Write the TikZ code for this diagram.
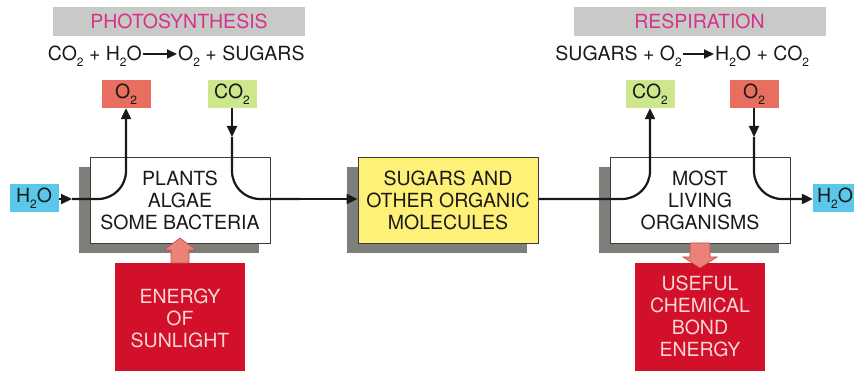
\documentclass[tikz,border=0pt]{standalone}
\usepackage{fontspec}
\setmainfont{TeX Gyre Heros}
\usetikzlibrary{arrows.meta,shadows}
\definecolor{shadowgrey}{RGB}{125,128,122}
\definecolor{headgrey}{RGB}{200,202,200}
\definecolor{titlemag}{RGB}{214,50,140}
\definecolor{oxred}{RGB}{232,110,95}
\definecolor{cogreen}{RGB}{206,230,140}
\definecolor{waterblue}{RGB}{90,200,235}
\definecolor{sugyellow}{RGB}{255,241,120}
\definecolor{enred}{RGB}{210,16,42}
\definecolor{entext}{RGB}{250,215,215}
\definecolor{pinkarrow}{RGB}{235,130,120}
\definecolor{pinkedge}{RGB}{190,80,70}
\definecolor{boxedge}{RGB}{60,60,60}
\definecolor{ink}{RGB}{25,25,25}
\newcommand\mysub[1]{\raisebox{-0.3em}{\fontsize{12}{12}\selectfont #1}}
\begin{document}
\begin{tikzpicture}[x=1pt,y=-1pt,
  every node/.style={font=\fontsize{19.5}{22}\selectfont, text=ink},
  header/.style={fill=headgrey, minimum width=252pt, minimum height=29pt, inner sep=0pt, text=titlemag},
  eqtext/.style={inner sep=1pt, text height=13pt, text depth=0pt},
  eqarrow/.style={-{Triangle[length=10pt,width=9pt]}, line width=1.8pt, ink},
  chem/.style={minimum width=49pt, minimum height=28pt, inner sep=0pt},
  procbox/.style={draw=boxedge, line width=0.9pt, fill=white, minimum width=180pt, minimum height=86pt, inner sep=0pt, align=center,
     drop shadow={shadow xshift=-11pt, shadow yshift=-10pt, fill=shadowgrey, opacity=1}},
  energy/.style={fill=enred, minimum width=130pt, minimum height=110pt, inner sep=0pt, align=center, text=entext, anchor=north},
  conn/.style={line width=2.2pt, ink, -{Triangle[length=11pt,width=10pt]}},
  link/.style={line width=2.2pt, ink},
  fatarrow/.style={fill=pinkarrow, draw=pinkedge, line width=0.6pt}
]
\useasboundingbox (0,0) rectangle (854,371);

% headers
\node[header] (phot) at (179,21.5) {PHOTOSYNTHESIS};
\node[header] (resp) at (699.5,21.5) {RESPIRATION};

% equations
\node[eqtext, anchor=east] (eqL1) at (143,54) {CO\mysub{2} + H\mysub{2}O};
\node[eqtext, anchor=west] (eqL2) at (177,54) {O\mysub{2} + SUGARS};
\draw[eqarrow] (eqL1.east) -- (eqL2.west);
\node[eqtext, anchor=east] (eqR1) at (683,54) {SUGARS + O\mysub{2}};
\node[eqtext, anchor=west] (eqR2) at (714,54) {H\mysub{2}O + CO\mysub{2}};
\draw[eqarrow] (eqR1.east) -- (eqR2.west);

% chemical boxes
\node[chem, fill=oxred] (o2L) at (126,94) {O\mysub{2}};
\node[chem, fill=cogreen] (co2L) at (232,94) {CO\mysub{2}};
\node[chem, fill=cogreen] (co2R) at (650,94) {CO\mysub{2}};
\node[chem, fill=oxred] (o2R) at (754,94) {O\mysub{2}};
\node[chem, fill=waterblue] (h2oL) at (34,198) {H\mysub{2}O};
\node[chem, fill=waterblue, text width=41pt, align=left] (h2oR) at (837.5,198) {H\mysub{2}O};

% process boxes
\node[procbox] (plants) at (180,200) {PLANTS\\ALGAE\\SOME BACTERIA};
\node[procbox, fill=sugyellow] (sug) at (448,200) {SUGARS AND\\OTHER ORGANIC\\MOLECULES};
\node[procbox] (most) at (700,200) {MOST\\LIVING\\ORGANISMS};

% energy boxes
\node[energy] (sun) at (180,263) {ENERGY\\OF\\SUNLIGHT};
\node[energy, align=center] (useful) at (700,263) {\\[-12pt]USEFUL\\CHEMICAL\\BOND\\ENERGY};

% connectors
\coordinate (m1) at (72,199);
\coordinate (c1) at (232,137);
\coordinate (c2) at (754,137);
\draw[conn] (h2oL.east |- m1) -- (m1);
\draw[conn, rounded corners=28pt] (m1) -| (o2L.south);
\draw[conn] (co2L.south) -- (c1);
\draw[link, rounded corners=28pt] (c1) |- (300,199);
\draw[conn] (300,199) -- (sug.west |- m1);
\draw[conn, rounded corners=28pt] (sug.east |- m1) -| (co2R.south);
\draw[conn] (o2R.south) -- (c2);
\draw[conn, rounded corners=28pt] (c2) |- (h2oR.west |- m1);

% fat energy arrows
\draw[fatarrow] (171,263) -- (171,250) -- (164,250) -- (180,238) -- (196,250) -- (189,250) -- (189,263) -- cycle;
\draw[fatarrow] (690,243) -- (690,257) -- (683,257) -- (700,268) -- (717,257) -- (710,257) -- (710,243) -- cycle;
\end{tikzpicture}
\end{document}
